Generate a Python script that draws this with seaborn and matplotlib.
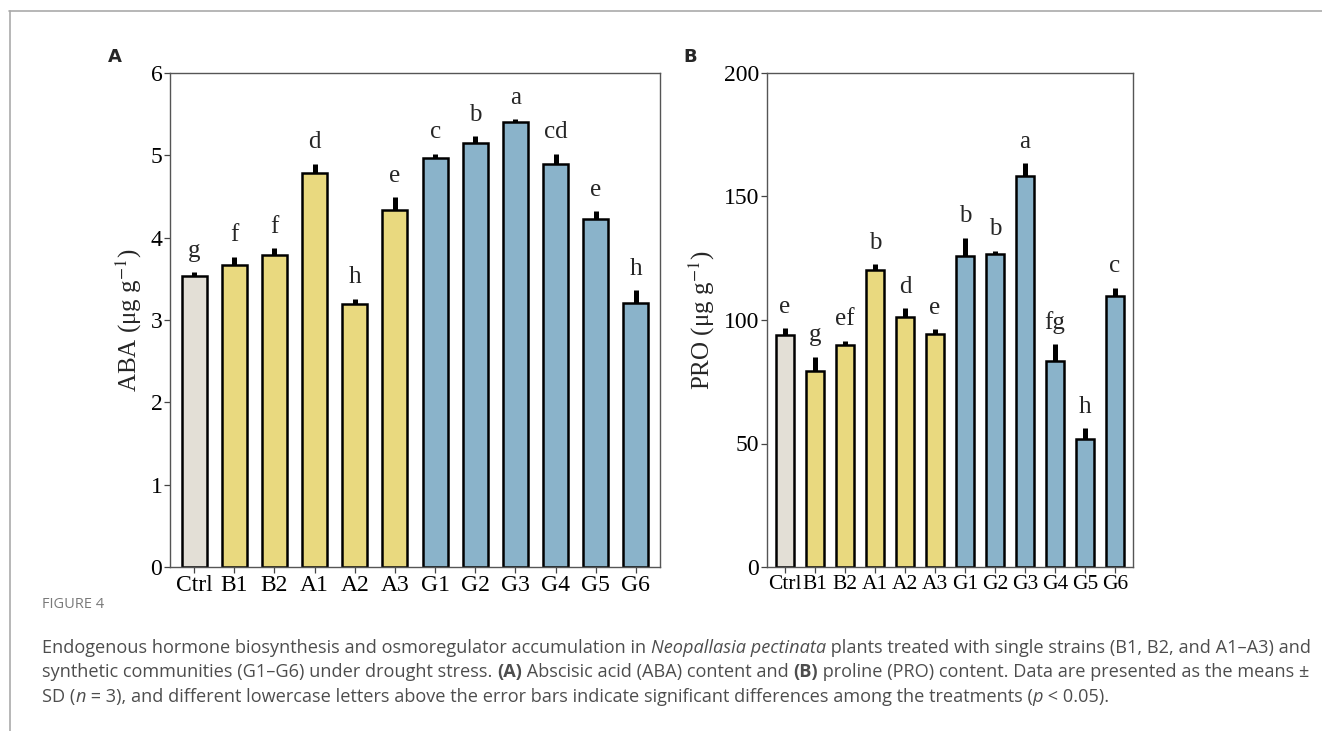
import matplotlib
matplotlib.use("Agg")
import matplotlib.pyplot as plt
import seaborn as sns
import pandas as pd
import numpy as np
from matplotlib.lines import Line2D

# data
groups = ['Ctrl', 'B1', 'B2', 'A1', 'A2', 'A3', 'G1', 'G2', 'G3', 'G4', 'G5', 'G6']
aba_mean = [3.53, 3.67, 3.79, 4.78, 3.19, 4.34, 4.97, 5.15, 5.40, 4.89, 4.23, 3.21]
aba_sd = [0.05, 0.10, 0.08, 0.12, 0.07, 0.15, 0.05, 0.08, 0.04, 0.13, 0.09, 0.15]
aba_letters = ['g', 'f', 'f', 'd', 'h', 'e', 'c', 'b', 'a', 'cd', 'e', 'h']
pro_mean = [94.0, 79.4, 89.7, 120.3, 101.2, 94.4, 125.8, 126.9, 158.4, 83.5, 52.0, 109.7]
pro_sd = [2.7, 5.8, 2.0, 2.4, 3.6, 2.0, 7.5, 1.2, 5.1, 6.8, 4.3, 3.4]
pro_letters = ['e', 'g', 'ef', 'b', 'd', 'e', 'b', 'b', 'a', 'fg', 'h', 'c']

palette = {'Ctrl': '#E3DFD6'}
for g in groups[1:6]:
    palette[g] = '#E9D97F'
for g in groups[6:]:
    palette[g] = '#8AB3CA'

sns.set_style('ticks')
plt.rcParams['font.family'] = ['Liberation Serif', 'DejaVu Serif']
plt.rcParams['mathtext.fontset'] = 'stix'

W, H = 1322, 731
fig = plt.figure(figsize=(W / 100, H / 100), dpi=100)

def px_axes(l, r, t, b):
    return fig.add_axes([l / W, 1 - b / H, (r - l) / W, (b - t) / H])

axA = px_axes(170, 660, 73, 567)
axB = px_axes(767, 1133, 73, 567)

def panel(ax, means, sds, letters, ylim, yticks, ylabel, xsize):
    df = pd.DataFrame({'group': groups, 'value': means})
    sns.barplot(data=df, x='group', y='value', hue='group', palette=palette,
                order=groups, hue_order=groups, legend=False, width=0.62,
                saturation=1, edgecolor='black', linewidth=1.8, ax=ax)
    pos = np.arange(len(groups))
    ax.errorbar(pos, means, yerr=[np.zeros(len(sds)), sds], fmt='none',
                ecolor='black', elinewidth=3.6, capsize=0, zorder=1)
    for i, (m, s, l) in enumerate(zip(means, sds, letters)):
        ax.annotate(l, (i, m + s), xytext=(0, 11), textcoords='offset points',
                    ha='center', va='baseline', fontsize=18)
    ax.set_xlim(-0.6, 11.6)
    ax.set_ylim(*ylim)
    ax.set_yticks(yticks)
    ax.set_xlabel('')
    ax.set_ylabel(ylabel, fontsize=18, labelpad=5)
    ax.tick_params(axis='both', length=4, width=0.9,
                   color='#444444', labelcolor='black', pad=1.5)
    ax.tick_params(axis='y', labelsize=17)
    ax.tick_params(axis='x', labelsize=xsize)
    for sp in ax.spines.values():
        sp.set_visible(True)
        sp.set_color('#555555')
        sp.set_linewidth(1.0)

panel(axA, aba_mean, aba_sd, aba_letters, (0, 6), range(0, 7),
      'ABA (μg g$^{-1}$)', 17)
panel(axB, pro_mean, pro_sd, pro_letters, (0, 200), range(0, 201, 50),
      'PRO (μg g$^{-1}$)', 15.5)

# panel letters
fig.text(115 / W, 1 - 57 / H, 'A', fontsize=13, fontweight='bold',
         family='DejaVu Sans', ha='center', va='center')
fig.text(690 / W, 1 - 57 / H, 'B', fontsize=13, fontweight='bold',
         family='DejaVu Sans', ha='center', va='center')

# page frame lines
fig.add_artist(Line2D([9 / W, 1], [1 - 10.5 / H, 1 - 10.5 / H],
                      color='#AAAAAA', linewidth=1.2))
fig.add_artist(Line2D([9.5 / W, 9.5 / W], [0, 1 - 10.5 / H],
                      color='#AAAAAA', linewidth=1.2))

# caption
cap_color = '#4D4D4D'
cap_font = ['Open Sans', 'DejaVu Sans']
cap_size = 13.1
fig.text(42 / W, 1 - 605 / H, 'FIGURE 4', fontsize=10.5, color='#7A7A7A',
         family=cap_font, va='center')

renderer = fig.canvas.get_renderer()

def rich_line(x, y, parts):
    for txt, style in parts:
        kw = dict(fontsize=cap_size, color=cap_color, family=cap_font, va='center')
        if style == 'i':
            kw['style'] = 'italic'
        elif style == 'b':
            kw['weight'] = 'bold'
        t = fig.text(x / W, 1 - y / H, txt, **kw)
        bb = t.get_window_extent(renderer=renderer)
        x += bb.width

rich_line(42, 648, [
    ('Endogenous hormone biosynthesis and osmoregulator accumulation in ', ''),
    ('Neopallasia pectinata', 'i'),
    (' plants treated with single strains (B1, B2, and A1–A3) and', ''),
])
rich_line(42, 672, [
    ('synthetic communities (G1–G6) under drought stress. ', ''),
    ('(A)', 'b'),
    (' Abscisic acid (ABA) content and ', ''),
    ('(B)', 'b'),
    (' proline (PRO) content. Data are presented as the means ±', ''),
])
rich_line(42, 697, [
    ('SD (', ''),
    ('n', 'i'),
    (' = 3), and different lowercase letters above the error bars indicate significant differences among the treatments (', ''),
    ('p', 'i'),
    (' < 0.05).', ''),
])

fig.savefig('out.png', dpi=100, facecolor='white')
